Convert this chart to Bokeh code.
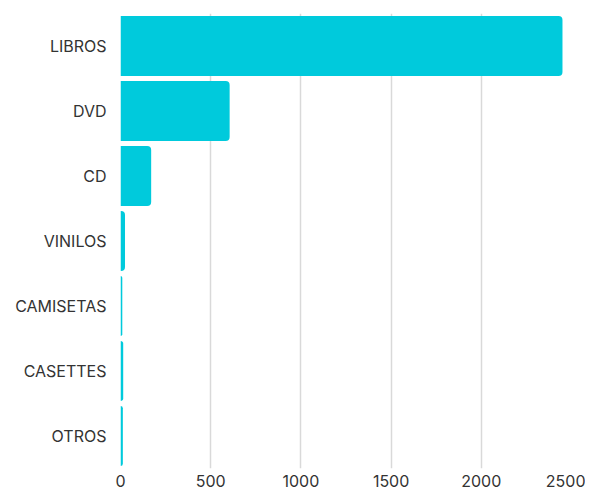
from bokeh.plotting import figure
from bokeh.models import FactorRange, Range1d, FixedTicker, ColumnDataSource
from bokeh.embed import file_html
from bokeh.resources import INLINE

categories = ["LIBROS", "DVD", "CD", "VINILOS", "CAMISETAS", "CASETTES", "OTROS"]
values = [2450, 605, 170, 25, 10, 15, 13]
x_ticks = [0, 500, 1000, 1500, 2000, 2500]

FONT = "Inter"
BAR = "#00CADC"

src = ColumnDataSource(dict(cat=categories, val=values))

p = figure(
    y_range=FactorRange(factors=list(reversed(categories)), range_padding=0),
    x_range=Range1d(0, 2500),
    frame_width=451, frame_height=455,
    min_border_left=120, min_border_right=14, min_border_top=13, min_border_bottom=10,
    output_backend="svg", toolbar_location=None,
)
p.hbar(y="cat", right="val", left=0, height=0.923, source=src,
       fill_color=BAR, line_color=None, border_radius=(0, 4, 4, 0))

p.outline_line_color = None
p.background_fill_color = "white"
p.border_fill_color = "white"

p.ygrid.grid_line_color = None
p.xgrid.grid_line_color = "#d9d9d9"
p.xgrid.grid_line_width = 1.5
p.xaxis.ticker = FixedTicker(ticks=x_ticks)

for ax in (p.xaxis, p.yaxis):
    ax.axis_line_color = None
    ax.major_tick_line_color = None
    ax.minor_tick_line_color = None
    ax.major_tick_out = 0
    ax.major_tick_in = 0
    ax.major_label_text_font = FONT
    ax.major_label_text_font_size = "16px"
    ax.major_label_text_color = "#333333"

p.xaxis.major_label_standoff = 6
p.yaxis.major_label_standoff = 14

open("out.html", "w").write(file_html(p, INLINE))
